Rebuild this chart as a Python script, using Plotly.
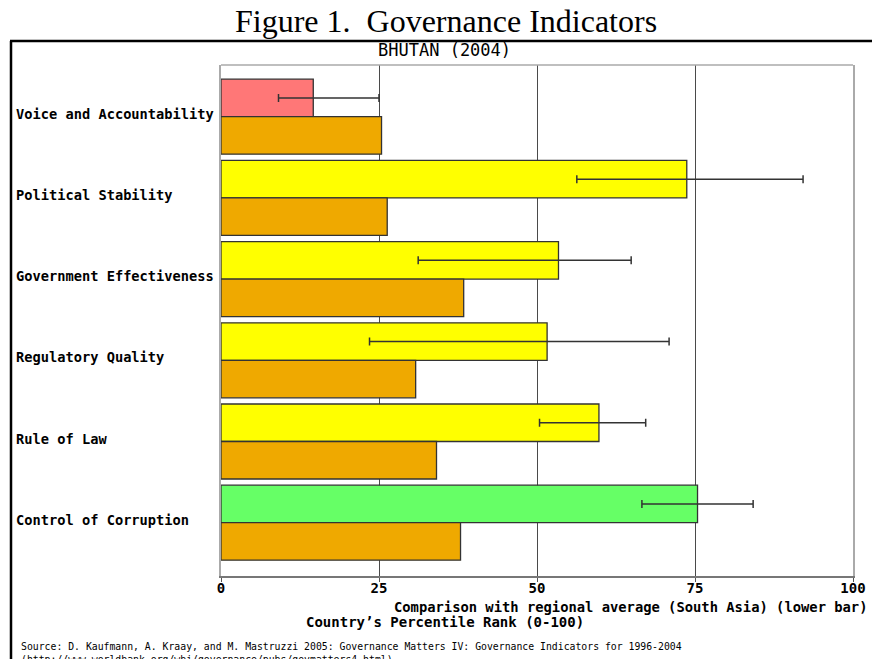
import plotly.graph_objects as go

# ---- data ----
categories = ["Voice and Accountability", "Political Stability", "Government Effectiveness",
              "Regulatory Quality", "Rule of Law", "Control of Corruption"]
country_rank = [14.6, 73.7, 53.4, 51.6, 59.8, 75.4]
ci_low = [9.1, 56.3, 31.2, 23.5, 50.4, 66.6]
ci_high = [25.0, 92.1, 64.9, 70.9, 67.2, 84.2]
regional_avg = [25.4, 26.3, 38.4, 30.8, 34.1, 37.9]
country_colors = ["#FF7777", "#FFFF00", "#FFFF00", "#FFFF00", "#FFFF00", "#66FF66"]
regional_color = "#EFA900"
x_ticks = [0, 25, 50, 75, 100]

err_plus = [h - v for h, v in zip(ci_high, country_rank)]
err_minus = [v - l for l, v in zip(ci_low, country_rank)]

W, H = 872, 659
L, R, T, B = 221, 853, 65, 576
PW, PH = R - L, B - T


def px(x):
    return (x - L) / PW


def py(y):
    return (B - y) / PH


MONO = "DejaVu Sans Mono"

fig = go.Figure()
fig.add_trace(go.Bar(
    y=categories, x=country_rank, orientation="h", name="Country",
    marker=dict(color=country_colors, line=dict(color="#333333", width=1.3)),
    error_x=dict(type="data", symmetric=False, array=err_plus, arrayminus=err_minus,
                 color="#333333", thickness=1.5, width=4),
    hoverinfo="x",
))
fig.add_trace(go.Bar(
    y=categories, x=regional_avg, orientation="h", name="South Asia",
    marker=dict(color=regional_color, line=dict(color="#333333", width=1.3)),
    hoverinfo="x",
))

annotations = []
for c in categories:
    annotations.append(dict(
        x=px(15), y=c, xref="paper", yref="y", text=c, showarrow=False,
        xanchor="left", yanchor="middle", yshift=3, borderpad=0,
        font=dict(family=MONO, size=13.7, color="#000000", weight="bold")))

annotations += [
    dict(x=px(446), y=py(21), xref="paper", yref="paper", text="Figure 1.  Governance Indicators",
         showarrow=False, xanchor="center", yanchor="middle", borderpad=0,
         font=dict(family="Liberation Serif", size=32, color="#000000")),
    dict(x=px(444), y=py(50), xref="paper", yref="paper", text="BHUTAN (2004)",
         showarrow=False, xanchor="center", yanchor="middle", borderpad=0,
         font=dict(family=MONO, size=17, color="#000000")),
    dict(x=px(868), y=py(607), xref="paper", yref="paper",
         text="Comparison with regional average (South Asia) (lower bar)",
         showarrow=False, xanchor="right", yanchor="middle", borderpad=0,
         font=dict(family=MONO, size=13.8, color="#000000", weight="bold")),
    dict(x=px(445), y=py(622), xref="paper", yref="paper",
         text="Country\u2019s Percentile Rank (0-100)",
         showarrow=False, xanchor="center", yanchor="middle", borderpad=0,
         font=dict(family=MONO, size=14, color="#000000", weight="bold")),
    dict(x=px(20), y=py(640), xref="paper", yref="paper",
         text="Source: D. Kaufmann, A. Kraay, and M. Mastruzzi 2005: Governance Matters IV: Governance Indicators for 1996-2004"
              "<br>(http://www.worldbank.org/wbi/governance/pubs/govmatters4.html)",
         showarrow=False, xanchor="left", yanchor="top", align="left", borderpad=0,
         font=dict(family=MONO, size=9.8, color="#000000")),
]

shapes = [
    dict(type="line", xref="paper", yref="paper", x0=px(10), x1=px(872), y0=py(41), y1=py(41),
         line=dict(color="#000000", width=2.5)),
    dict(type="line", xref="paper", yref="paper", x0=px(11), x1=px(11), y0=py(41), y1=py(700),
         line=dict(color="#000000", width=2.5)),
    dict(type="line", xref="paper", yref="paper", x0=0, x1=1, y0=1, y1=1,
         line=dict(color="#AAAAAA", width=1.5)),
]

fig.update_layout(
    width=W, height=H, autosize=False,
    margin=dict(l=L, r=W - R, t=T, b=H - B, pad=0, autoexpand=False),
    paper_bgcolor="#FFFFFF", plot_bgcolor="#FFFFFF",
    barmode="group", bargap=0.076, bargroupgap=0,
    showlegend=False,
    annotations=annotations, shapes=shapes,
    xaxis=dict(range=[0, 100], tickvals=x_ticks, ticktext=[str(t) for t in x_ticks],
               showgrid=True, gridcolor="#4A4A4A", gridwidth=1.4, zeroline=False,
               showline=True, linecolor="#777777", linewidth=1.5, mirror=False,
               ticks="outside", ticklen=4, tickcolor="#555555", automargin=False,
               ticklabelstandoff=-6,
               tickfont=dict(family=MONO, size=14, color="#000000", weight="bold"),
               fixedrange=True),
    yaxis=dict(categoryorder="array", categoryarray=categories,
               range=[5 + (B - 522.7) / 81.2, -(116.7 - T) / 81.2],
               showticklabels=False, showgrid=False, zeroline=False,
               showline=True, linecolor="#AAAAAA", linewidth=1.5, mirror=True,
               automargin=False, fixedrange=True),
)

fig.write_html("out.html")
